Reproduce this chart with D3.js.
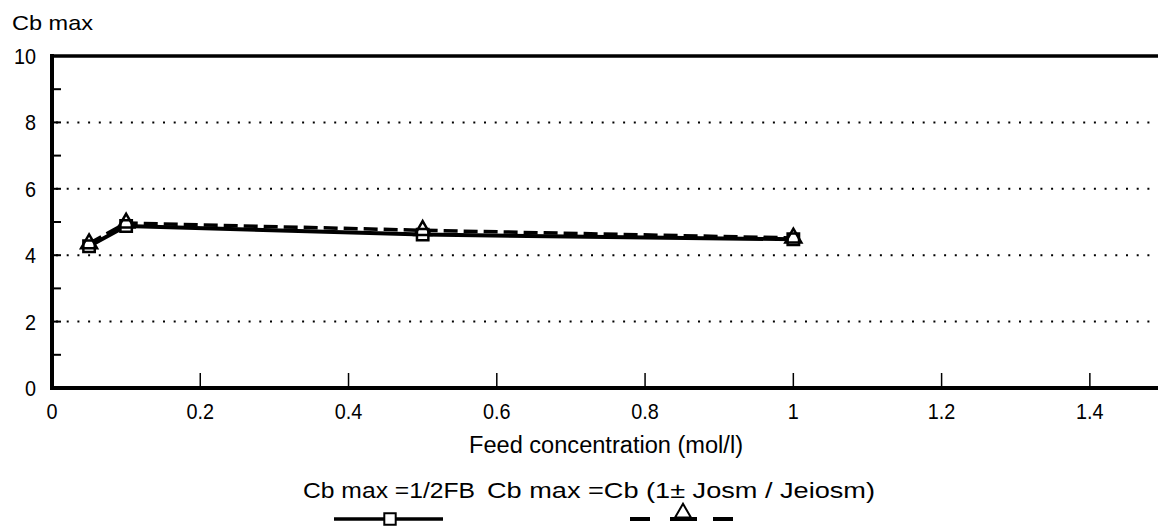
<!DOCTYPE html>
<html><head><meta charset="utf-8">
<script src="https://cdn.jsdelivr.net/npm/d3@7"></script>
<style>body{margin:0;background:#fff;overflow:hidden}svg{display:block}text{font-family:"Liberation Sans",Arial,sans-serif;fill:#000}</style>
</head><body>
<script>
const feed = [0.05, 0.1, 0.5, 1.0];
const seriesHalfFB = [4.27, 4.88, 4.62, 4.48];
const seriesJosm = [4.35, 4.97, 4.75, 4.52];
const xTicks = [0, 0.2, 0.4, 0.6, 0.8, 1, 1.2, 1.4];
const xTickLabels = ["0", "0.2", "0.4", "0.6", "0.8", "1", "1.2", "1.4"];
const yTicks = [0, 2, 4, 6, 8, 10];
const yMinor = [1, 3, 5, 7, 9];
const legendLabels = ["Cb max =1/2FB", "Cb max =Cb (1± Josm / Jeiosm)"];

const W = 1158, H = 529;
const svg = d3.select("body").append("svg").attr("width", W).attr("height", H);
const x = d3.scaleLinear().domain([0, 1.5]).range([52, 1164]);
const y = d3.scaleLinear().domain([0, 10]).range([388, 56]);

function squeeze(sel, f) { sel.each(function(){ const l = this.getComputedTextLength(); d3.select(this).attr("textLength", l*f).attr("lengthAdjust","spacingAndGlyphs"); }); }

// gridlines
svg.append("g").selectAll("line").data([2,4,6,8]).join("line")
  .attr("x1", x(0)+4).attr("x2", W).attr("y1", d=>y(d)).attr("y2", d=>y(d))
  .attr("stroke", "#000").attr("stroke-width", 2).attr("stroke-dasharray", "2,8.7");

// y ticks
svg.append("g").selectAll("line").data(yMinor.concat([2,4,6,8])).join("line")
  .attr("x1", x(0)).attr("x2", x(0)+9).attr("y1", d=>y(d)).attr("y2", d=>y(d))
  .attr("stroke", "#000").attr("stroke-width", 2);
// x ticks (upward)
svg.append("g").selectAll("line").data(xTicks.slice(1)).join("line")
  .attr("x1", d=>x(d)).attr("x2", d=>x(d)).attr("y1", y(0)).attr("y2", y(0)-15)
  .attr("stroke", "#000").attr("stroke-width", 1.5);

// frame
svg.append("line").attr("x1", x(0)).attr("x2", W).attr("y1", y(10)).attr("y2", y(10)).attr("stroke","#000").attr("stroke-width",3.5);
svg.append("line").attr("x1", x(0)).attr("x2", W).attr("y1", y(0)).attr("y2", y(0)).attr("stroke","#000").attr("stroke-width",4);
svg.append("line").attr("x1", x(0)).attr("x2", x(0)).attr("y1", y(10)-2).attr("y2", y(0)+2).attr("stroke","#000").attr("stroke-width",4);

// tick labels
svg.append("g").selectAll("text").data(yTicks).join("text")
  .attr("x", 36).attr("y", d=>y(d)+8).attr("text-anchor","end").attr("font-size",22).text(d=>d).call(squeeze, 0.9);
svg.append("g").selectAll("text").data(xTicks).join("text")
  .attr("x", d=>x(d)).attr("y", 419).attr("text-anchor","middle").attr("font-size",22).text((d,i)=>xTickLabels[i]).call(squeeze, 0.9);

svg.append("text").attr("x", 12).attr("y", 30).attr("font-size",21)
  .attr("textLength",81).attr("lengthAdjust","spacingAndGlyphs").text("Cb max");
svg.append("text").attr("x", 469).attr("y", 453).attr("font-size",23)
  .attr("textLength",274).attr("lengthAdjust","spacingAndGlyphs").text("Feed concentration (mol/l)");

// lines
const line = d3.line().x((d,i)=>x(feed[i])).y(d=>y(d));
svg.append("path").datum(seriesJosm).attr("d", line).attr("fill","none").attr("stroke","#000").attr("stroke-width",3.5).attr("stroke-dasharray","14,6");
svg.append("path").datum(seriesHalfFB).attr("d", line).attr("fill","none").attr("stroke","#000").attr("stroke-width",4);

const sq = d3.symbol().type(d3.symbolSquare).size(130);
const tri = d3.symbol().type(d3.symbolTriangle).size(110);
svg.append("g").selectAll("path").data(seriesHalfFB).join("path")
  .attr("transform",(d,i)=>`translate(${x(feed[i])},${y(d)})`).attr("d", sq)
  .attr("fill","#fff").attr("stroke","#000").attr("stroke-width",2.5);
svg.append("g").selectAll("path").data(seriesJosm).join("path")
  .attr("transform",(d,i)=>`translate(${x(feed[i])},${y(d)})`).attr("d", tri)
  .attr("fill","none").attr("stroke","#000").attr("stroke-width",2.5);

// legend
svg.append("text").attr("x", 303).attr("y", 498).attr("font-size",22)
  .attr("textLength",172).attr("lengthAdjust","spacingAndGlyphs").text(legendLabels[0]);
svg.append("text").attr("x", 487).attr("y", 498).attr("font-size",22)
  .attr("textLength",388).attr("lengthAdjust","spacingAndGlyphs").text(legendLabels[1]);
svg.append("line").attr("x1",334).attr("x2",443).attr("y1",519).attr("y2",519).attr("stroke","#000").attr("stroke-width",3.5);
svg.append("path").attr("transform","translate(390,519)").attr("d", sq).attr("fill","#fff").attr("stroke","#000").attr("stroke-width",2);
svg.append("line").attr("x1",630).attr("x2",650).attr("y1",519).attr("y2",519).attr("stroke","#000").attr("stroke-width",4);
svg.append("line").attr("x1",670).attr("x2",697).attr("y1",519).attr("y2",519).attr("stroke","#000").attr("stroke-width",4);
svg.append("line").attr("x1",713).attr("x2",733).attr("y1",519).attr("y2",519).attr("stroke","#000").attr("stroke-width",4);
svg.append("path").attr("transform","translate(683,513)").attr("d", tri).attr("fill","#fff").attr("stroke","#000").attr("stroke-width",2);
</script>
</body></html>
